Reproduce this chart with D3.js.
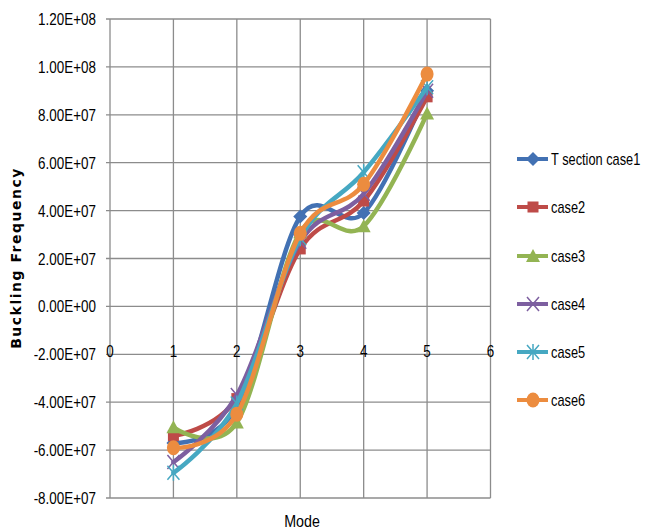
<!DOCTYPE html>
<html>
<head>
<meta charset="utf-8">
<script src="https://cdn.jsdelivr.net/npm/d3@7"></script>
<style>
  html, body { margin: 0; padding: 0; background: #fff; }
  svg { display: block; }
  text { font-family: "Liberation Sans", Arial, sans-serif; fill: #000; }
</style>
</head>
<body>
<svg id="chart" width="646" height="529"></svg>
<script>
// Mode numbers along the horizontal axis
const modes = [1, 2, 3, 4, 5];
const xTicks = [0, 1, 2, 3, 4, 5, 6];
const yTicks = [-8e7, -6e7, -4e7, -2e7, 0, 2e7, 4e7, 6e7, 8e7, 1e8, 1.2e8];

// Buckling frequency per case
const seriesNames = ["T section case1", "case2", "case3", "case4", "case5", "case6"];
const case1 = [-5.7e7, -4.2e7, 3.75e7, 3.9e7, 9.0e7];
const case2 = [-5.4e7, -3.85e7, 2.4e7, 4.4e7, 8.75e7];
const case3 = [-5.05e7, -4.85e7, 3.1e7, 3.35e7, 8.05e7];
const case4 = [-6.5e7, -3.7e7, 2.7e7, 4.7e7, 9.0e7];
const case5 = [-6.95e7, -4.05e7, 2.85e7, 5.6e7, 9.15e7];
const case6 = [-5.9e7, -4.5e7, 3.05e7, 5.1e7, 9.7e7];
const seriesValues = [case1, case2, case3, case4, case5, case6];

const colors = ["#4271b3", "#be4b48", "#93b453", "#7d5fa0", "#46a8c2", "#ec8c3f"];
const markers = ["diamond", "square", "triangle", "x", "asterisk", "circle"];

const svg = d3.select("#chart");
const x = d3.scaleLinear().domain([0, 6]).range([110, 490.5]);
const y = d3.scaleLinear().domain([-8e7, 1.2e8]).range([498, 19]);

const fmt = v => {
  if (v === 0) return "0.00E+00";
  const s = v.toExponential(2).toUpperCase();
  return s.replace(/E([+-])(\d)$/, "E$10$2");
};

// Condensed text: horizontally squeezed around its anchor point
function narrowText(sel, px, py, sx) {
  return sel.attr("transform", (d, i) => {
    const tx = typeof px === "function" ? px(d, i) : px;
    const ty = typeof py === "function" ? py(d, i) : py;
    return `translate(${tx},${ty}) scale(${sx},1)`;
  });
}

// Grid
const grid = svg.append("g").attr("stroke", "#8c8c8c").attr("stroke-width", 1.3);
grid.selectAll(".h").data(yTicks).join("line")
  .attr("x1", 106).attr("x2", x(6))
  .attr("y1", d => y(d)).attr("y2", d => y(d));
grid.selectAll(".v").data(xTicks).join("line")
  .attr("x1", d => x(d)).attr("x2", d => x(d))
  .attr("y1", y(1.2e8)).attr("y2", y(-8e7));

// Y axis labels
narrowText(svg.append("g").selectAll("text").data(yTicks).join("text"),
    96, d => y(d) + 6, 0.84)
  .attr("text-anchor", "end")
  .style("font-size", "16px")
  .text(fmt);

// X axis labels (sitting just above the -2E+07 line)
narrowText(svg.append("g").selectAll("text").data(xTicks).join("text"),
    d => x(d), y(-2e7) + 3, 0.84)
  .attr("text-anchor", "middle")
  .style("font-size", "16px")
  .text(d => d);

// Axis titles
svg.append("text")
  .attr("transform", "translate(21,258) rotate(-90)")
  .attr("text-anchor", "middle")
  .style("font-family", "'DejaVu Sans', sans-serif")
  .style("font-weight", "bold")
  .style("font-size", "14px")
  .style("letter-spacing", "1.5px")
  .text("Buckling Frequency");
narrowText(svg.append("text"), 302, 527, 0.84)
  .attr("text-anchor", "middle")
  .style("font-size", "17px")
  .text("Mode");

// Marker shapes
function drawMarker(g, type, color, cx, cy) {
  const s = g.append("g").attr("transform", `translate(${cx},${cy})`);
  if (type === "diamond") {
    s.append("path").attr("d", "M0,-7L7,0L0,7L-7,0Z").attr("fill", color);
  } else if (type === "square") {
    s.append("rect").attr("x", -5.5).attr("y", -5.5).attr("width", 11).attr("height", 11).attr("fill", color);
  } else if (type === "triangle") {
    s.append("path").attr("d", "M0,-7L7,6L-7,6Z").attr("fill", color);
  } else if (type === "x") {
    s.append("path").attr("d", "M-6,-7L6,7M6,-7L-6,7").attr("stroke", color).attr("stroke-width", 1.5).attr("fill", "none");
  } else if (type === "asterisk") {
    s.append("path").attr("d", "M-6,-7L6,7M6,-7L-6,7M0,-8L0,8").attr("stroke", color).attr("stroke-width", 1.5).attr("fill", "none");
  } else {
    s.append("ellipse").attr("rx", 6.5).attr("ry", 7.5).attr("fill", color);
  }
}

const line = d3.line()
  .x((d, i) => x(modes[i]))
  .y(d => y(d))
  .curve(d3.curveCardinal.tension(0));

seriesValues.forEach((vals, k) => {
  const g = svg.append("g");
  g.append("path").datum(vals)
    .attr("d", line)
    .attr("fill", "none")
    .attr("stroke", colors[k])
    .attr("stroke-width", 4.5)
    .attr("stroke-linejoin", "round")
    .attr("stroke-linecap", "round");
  vals.forEach((v, i) => drawMarker(g, markers[k], colors[k], x(modes[i]), y(v)));
});

// Legend
const legendY = [159, 207, 256, 304, 352, 400];
seriesNames.forEach((name, k) => {
  const g = svg.append("g");
  g.append("line")
    .attr("x1", 517).attr("x2", 548)
    .attr("y1", legendY[k]).attr("y2", legendY[k])
    .attr("stroke", colors[k]).attr("stroke-width", 4);
  drawMarker(g, markers[k], colors[k], 533, legendY[k]);
  narrowText(g.append("text"), 551, legendY[k] + 6, 0.8)
    .style("font-size", "16px")
    .text(name);
});
</script>
</body>
</html>
